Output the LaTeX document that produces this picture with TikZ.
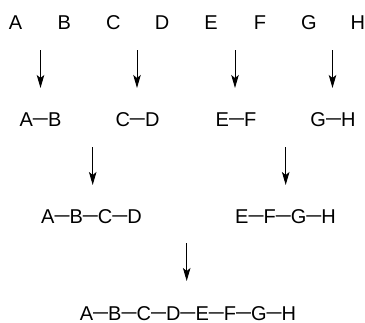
\documentclass[tikz,border=0pt]{standalone}
\usepackage{graphicx}
\usepackage{fontspec}
\setmainfont{Liberation Sans}
\usetikzlibrary{arrows.meta}
\newcommand{\lnk}{\raisebox{1.8bp}{\scalebox{1.35}[1]{–}}}
\begin{document}
\begin{tikzpicture}[x=1bp,y=-1bp,
  lbl/.style={anchor=base, inner sep=0pt, font=\fontsize{20bp}{24bp}\selectfont},
  arr/.style={line width=1bp, -{Stealth[length=13bp,width=7.5bp,inset=3bp]}}]
\useasboundingbox (0,0) rectangle (365,323);
% row 1
\node[lbl] (A) at (15.5,29) {A};
\node[lbl] (B) at (64.4,29) {B};
\node[lbl] (C) at (113.3,29) {C};
\node[lbl] (D) at (162.2,29) {D};
\node[lbl] (E) at (211.1,29) {E};
\node[lbl] (F) at (260,29) {F};
\node[lbl] (G) at (308.9,29) {G};
\node[lbl] (H) at (357.8,29) {H};
% arrows 1
\coordinate (s1) at (40.5,50); \coordinate (e1) at (40.5,88);
\coordinate (s2) at (137,50); \coordinate (e2) at (137,88);
\coordinate (s3) at (235,50); \coordinate (e3) at (235,88);
\coordinate (s4) at (332.5,50); \coordinate (e4) at (332.5,88);
\draw[arr] (s1) -- (e1);
\draw[arr] (s2) -- (e2);
\draw[arr] (s3) -- (e3);
\draw[arr] (s4) -- (e4);
% row 2
\node[lbl] (AB) at (40.5,126) {A\lnk B};
\node[lbl] (CD) at (137.5,126) {C\lnk D};
\node[lbl] (EF) at (236,126) {E\lnk F};
\node[lbl] (GH) at (333,126) {G\lnk H};
% arrows 2
\coordinate (s5) at (92.7,147); \coordinate (e5) at (92.7,185);
\coordinate (s6) at (285.7,147); \coordinate (e6) at (285.7,185);
\draw[arr] (s5) -- (e5);
\draw[arr] (s6) -- (e6);
% row 3
\node[lbl] (ABCD) at (91.5,223) {A\lnk B\lnk C\lnk D};
\node[lbl] (EFGH) at (285.5,223) {E\lnk F\lnk G\lnk H};
% arrow 3
\coordinate (s7) at (186.7,243); \coordinate (e7) at (186.7,281);
\draw[arr] (s7) -- (e7);
% row 4
\node[lbl] (ALL) at (188,320) {A\lnk B\lnk C\lnk D\lnk E\lnk F\lnk G\lnk H};
\end{tikzpicture}
\end{document}
